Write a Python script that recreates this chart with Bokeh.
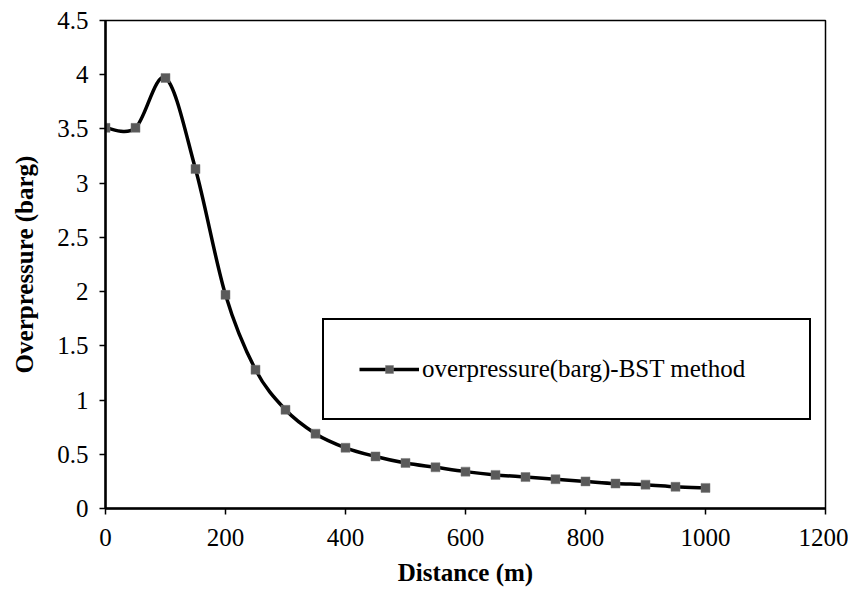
import numpy as np
from bokeh.plotting import figure
from bokeh.models import (ColumnDataSource, Legend, LegendItem, FixedTicker,
                          NumeralTickFormatter, Range1d)
from bokeh.embed import file_html
from bokeh.resources import INLINE

# ---- data ----
distance = [0, 50, 100, 150, 200, 250, 300, 350, 400, 450, 500,
            550, 600, 650, 700, 750, 800, 850, 900, 950, 1000]
overpressure = [3.51, 3.51, 3.97, 3.13, 1.97, 1.28, 0.91, 0.69, 0.56, 0.48, 0.42,
                0.38, 0.34, 0.31, 0.29, 0.27, 0.25, 0.23, 0.22, 0.20, 0.19]
x_ticks = [0, 200, 400, 600, 800, 1000, 1200]
y_ticks = [0, 0.5, 1, 1.5, 2, 2.5, 3, 3.5, 4, 4.5]
series_label = "overpressure(barg)-BST method"

FONT = "Liberation Serif"
FS = "25px"

# smooth (Excel-like) curve as cubic bezier segments between data points
xs = np.array(distance, dtype=float)
ys = np.array(overpressure, dtype=float)
n = len(xs)
seg = dict(x0=[], y0=[], x1=[], y1=[], cx0=[], cy0=[], cx1=[], cy1=[])
for i in range(n - 1):
    ip = i - 1 if i > 0 else i
    inn = i + 2 if i + 2 < n else i + 1
    seg["x0"].append(xs[i]); seg["y0"].append(ys[i])
    seg["x1"].append(xs[i + 1]); seg["y1"].append(ys[i + 1])
    seg["cx0"].append(xs[i] + (xs[i + 1] - xs[ip]) / 6)
    seg["cy0"].append(ys[i] + (ys[i + 1] - ys[ip]) / 6)
    seg["cx1"].append(xs[i + 1] - (xs[inn] - xs[i]) / 6)
    seg["cy1"].append(ys[i + 1] - (ys[inn] - ys[i]) / 6)

p = figure(width=848, height=588, output_backend="svg", toolbar_location=None,
           x_range=Range1d(0, 1200), y_range=Range1d(0, 4.5),
           min_border_left=105, min_border_right=23, min_border_top=20,
           min_border_bottom=77)
p.background_fill_color = "white"
p.border_fill_color = "white"
p.outline_line_color = "black"
p.outline_line_alpha = 1
p.outline_line_width = 1.5
p.xgrid.visible = False
p.ygrid.visible = False

p.bezier(x0="x0", y0="y0", x1="x1", y1="y1", cx0="cx0", cy0="cy0",
         cx1="cx1", cy1="cy1", source=ColumnDataSource(seg),
         line_color="black", line_width=3.5)
marks = p.scatter(distance, overpressure, marker="square", size=9,
                  fill_color="#5a5a5a", line_color="#7a7a7a", line_width=0.5)
leg_line = p.line(x=[np.nan], y=[np.nan], line_color="black", line_width=3.5)

for ax in (p.xaxis[0], p.yaxis[0]):
    ax.axis_line_color = "black"
    ax.axis_line_width = 2.5
    ax.major_tick_line_color = "black"
    ax.major_tick_line_width = 1.5
    ax.major_tick_out = 6
    ax.major_tick_in = 0
    ax.minor_tick_line_color = None
    ax.major_label_text_font = FONT
    ax.major_label_text_font_size = FS
    ax.major_label_text_color = "black"
    ax.axis_label_text_font = FONT
    ax.axis_label_text_font_size = FS
    ax.axis_label_text_font_style = "bold"
    ax.axis_label_text_color = "black"

p.xaxis.ticker = FixedTicker(ticks=x_ticks)
p.yaxis.ticker = FixedTicker(ticks=y_ticks)
p.yaxis.formatter = NumeralTickFormatter(format="0.[0]")
p.xaxis.axis_label = "Distance (m)"
p.yaxis.axis_label = "Overpressure (barg)"
p.xaxis.major_label_standoff = 14
p.yaxis.major_label_standoff = 11
p.xaxis.axis_label_standoff = 10
p.yaxis.axis_label_standoff = 16

legend = Legend(items=[LegendItem(label=series_label, renderers=[leg_line, marks])],
                location=(217, 88))
legend.label_text_font = FONT
legend.label_text_font_size = FS
legend.label_text_color = "black"
legend.glyph_width = 60
legend.glyph_height = 20
legend.label_height = 24
legend.label_standoff = 3
legend.label_width = 352
legend.padding = 35
legend.margin = 0
legend.border_line_color = "black"
legend.border_line_alpha = 1
legend.border_line_width = 2
legend.background_fill_color = "white"
legend.background_fill_alpha = 1
p.add_layout(legend, "center")

open("out.html", "w").write(file_html(p, INLINE))
